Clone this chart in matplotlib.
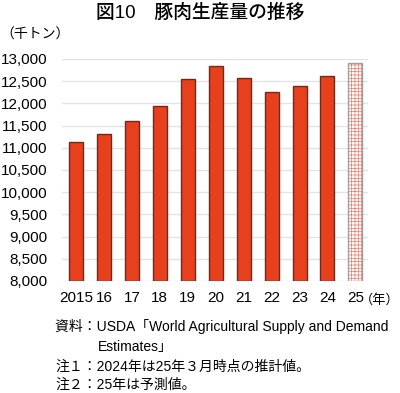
import matplotlib
matplotlib.use("Agg")
from matplotlib import pyplot as plt

plt.rcParams['font.family'] = ['Liberation Sans', 'Noto Sans CJK JP', 'DejaVu Sans']
plt.rcParams['hatch.linewidth'] = 0.5

years = ["2015", "16", "17", "18", "19", "20", "21", "22", "23", "24", "25"]
production = [11121, 11320, 11611, 11943, 12543, 12845, 12560, 12252, 12387, 12611, 12905]
forecast = [False] * 10 + [True]
yticks = list(range(8000, 13001, 500))

title = "図10　豚肉生産量の推移"
unit = "（千トン）"
year_unit = "（年）"
note_src = "資料：USDA「World Agricultural Supply and Demand"
note_src2 = "Estimates」"
note1 = "注１：2024年は25年３月時点の推計値。"
note2 = "注２：25年は予測値。"

bar_color = "#E8401C"
edge_color = "#6E2A1C"

fig = plt.figure(figsize=(4.0, 3.93), dpi=100)
ax = fig.add_axes([0.155, 0.285, 0.765, 0.565])

for i, (y, v, f) in enumerate(zip(years, production, forecast)):
    if f:
        ax.bar(i, v - 8000, bottom=8000, width=0.5, color="white",
               edgecolor="#F07A68", hatch="+++++", linewidth=0, zorder=3)
        ax.bar(i, v - 8000, bottom=8000, width=0.5, fill=False,
               edgecolor="#A0A0A0", linewidth=1.0, zorder=4)
    else:
        ax.bar(i, v - 8000, bottom=8000, width=0.5, color=bar_color,
               edgecolor=edge_color, linewidth=1.0, zorder=3)

ax.set_ylim(8000, 13000)
ax.set_xlim(-0.5, 10.45)
ax.set_yticks(yticks)
ax.set_yticklabels([f"{t:,}" for t in yticks], fontsize=11)
ax.set_xticks(range(len(years)))
ax.set_xticklabels(years, fontsize=11)
ax.tick_params(length=0)
ax.tick_params(axis="x", pad=7)
ax.tick_params(axis="y", pad=10.5)
ax.grid(axis="y", color="#E4E4E4", linewidth=1.0, zorder=0)
for s in ax.spines.values():
    s.set_visible(False)

fig.text(0.5, 0.968, title, ha="center", va="center", fontsize=13.5, fontweight="medium")
fig.text(0.0, 0.911, unit, ha="left", va="center", fontsize=10)
fig.text(1.0, 0.237, year_unit, ha="right", va="center", fontsize=9.5)

fig.text(0.138, 0.168, note_src, ha="left", va="center", fontsize=10)
fig.text(0.245, 0.117, note_src2, ha="left", va="center", fontsize=10)
fig.text(0.138, 0.066, note1, ha="left", va="center", fontsize=10)
fig.text(0.138, 0.020, note2, ha="left", va="center", fontsize=10)

fig.savefig("out.png", dpi=100)
